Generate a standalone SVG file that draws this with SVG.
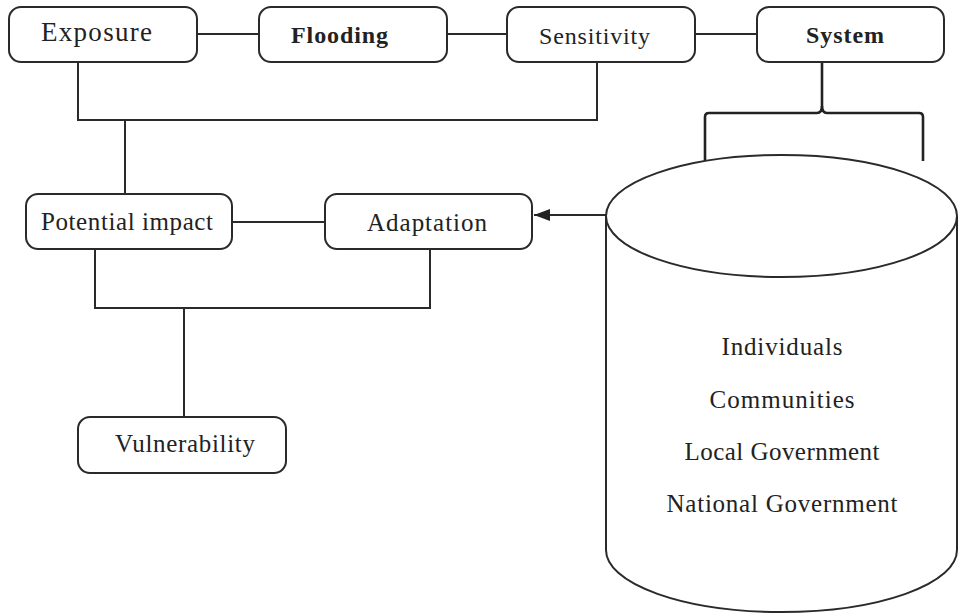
<svg xmlns="http://www.w3.org/2000/svg" width="959" height="613" viewBox="0 0 959 613">
<style>
.box{fill:#fff;stroke:#2a2a2a;stroke-width:2}
.ln{fill:none;stroke:#2a2a2a;stroke-width:2}
.br{fill:none;stroke:#222;stroke-width:2.6}
.t{font-family:"Liberation Serif","Times New Roman",serif;fill:#222;text-anchor:middle}
.b{font-weight:bold}
</style>
<defs>
<marker id="arr" markerWidth="16" markerHeight="12" refX="16" refY="6" orient="auto" markerUnits="userSpaceOnUse">
<path d="M0,0 L16,6 L0,12 Z" fill="#222"/>
</marker>
</defs>
<rect width="959" height="613" fill="#fff"/>
<g id="connectors">
<path class="ln" d="M197,34 H259"/>
<path class="ln" d="M447,34 H507"/>
<path class="ln" d="M695,34 H757"/>
<path class="ln" d="M78,62 V120 H597 V62"/>
<path class="ln" d="M125,120 V194"/>
<path class="ln" d="M232,222 H325"/>
<path class="ln" d="M95,249 V308 H430 V249"/>
<path class="ln" d="M184,308 V417"/>
<path class="ln" d="M606,215 H534" marker-end="url(#arr)"/>
<path class="br" d="M705,161 V117 Q705,113 709,113 H817 Q822,113 822,106 V62"/>
<path class="br" d="M923,161 V117 Q923,113 919,113 H827 Q822,113 822,106"/>
</g>
<g id="exposure">
<rect class="box" x="9" y="7" width="188" height="55" rx="12"/>
<text class="t" x="96.5" y="41" font-size="27" textLength="111">Exposure</text>
</g>
<g id="flooding">
<rect class="box" x="259" y="7" width="188" height="55" rx="12"/>
<text class="t b" x="339.5" y="43" font-size="24" textLength="97">Flooding</text>
</g>
<g id="sensitivity">
<rect class="box" x="507" y="7" width="188" height="55" rx="12"/>
<text class="t" x="594.5" y="44" font-size="24" textLength="111">Sensitivity</text>
</g>
<g id="system">
<rect class="box" x="757" y="7" width="187" height="55" rx="12"/>
<text class="t b" x="845" y="43" font-size="24" textLength="78">System</text>
</g>
<g id="potential-impact">
<rect class="box" x="26" y="194" width="206" height="55" rx="12"/>
<text class="t" x="127" y="230" font-size="25" textLength="172">Potential impact</text>
</g>
<g id="adaptation">
<rect class="box" x="325" y="194" width="207" height="55" rx="12"/>
<text class="t" x="427" y="231" font-size="25" textLength="120">Adaptation</text>
</g>
<g id="vulnerability">
<rect class="box" x="78" y="417" width="208" height="56" rx="12"/>
<text class="t" x="185" y="452" font-size="25" textLength="140">Vulnerability</text>
</g>
<g id="system-cylinder">
<path class="box" d="M606,216 V550 A175.5,62 0 0 0 957,550 V216"/>
<ellipse class="box" cx="781.5" cy="216" rx="175.5" ry="61"/>
<text class="t" x="782" y="355" font-size="25" textLength="121">Individuals</text>
<text class="t" x="782" y="408" font-size="25" textLength="145">Communities</text>
<text class="t" x="782" y="460" font-size="25" textLength="195">Local Government</text>
<text class="t" x="782" y="512" font-size="25" textLength="231">National Government</text>
</g>
</svg>
